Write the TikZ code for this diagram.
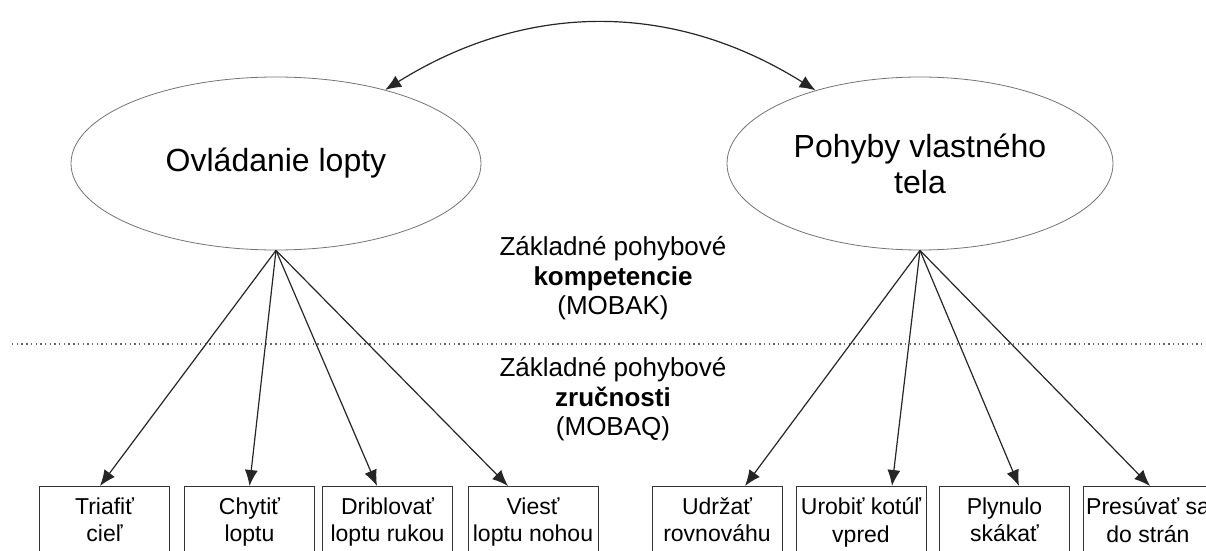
\documentclass[tikz,border=0pt]{standalone}
\usepackage{fontspec}
\setmainfont{Liberation Sans}
\usetikzlibrary{arrows.meta,shapes.geometric}
\tikzstyle{area}=[ellipse, draw=black!55
,line width=0.4pt
,inner sep=0pt
,minimum height=86.5pt
,align=center
,font=\fontsize{16}{18}\selectfont
]
\tikzstyle{skill}=[rectangle, draw=black!80, line width=0.5pt
,minimum width=65pt
,inner xsep=1pt, inner ysep=5.5pt
,anchor=north, align=center
,text depth=30pt
,execute at begin node={\rule{0pt}{10.5pt}}
,font=\fontsize{11.5}{13.8}\selectfont
]
\tikzstyle{level}=[anchor=north, align=center, inner sep=0pt
,execute at begin node={\rule{0pt}{11pt}}
,font=\fontsize{13}{14.75}\selectfont
]
\tikzstyle{edge} = [draw, line width=0.6pt, black!85, -{Latex[length=8pt,width=6.5pt]}]

\begin{document}
\begin{tikzpicture}[x=0.5pt,y=0.5pt]
    \useasboundingbox (0,0) rectangle (1206,-551);
    \clip (0,0) rectangle (1206,-551);
    % The two areas
    \node[area, minimum width=205pt] (ovl) at (276,-163.5) {Ovládanie lopty};
    \node[area, minimum width=193pt] (poh) at (920,-163.5) {Pohyby vlastného\\tela};
    \path[edge, {Latex[length=8pt,width=6.5pt]}-{Latex[length=8pt,width=6.5pt]}] (ovl.34) to[bend left=32] (poh.145);

    % Levels and the line between them
    \node[level] (MOBAK) at (613,-236) {Základné pohybové\\\textbf{kompetencie}\\(MOBAK)};
    \node[level] (MOBAQ) at (613,-357) {Základné pohybové\\\textbf{zručnosti}\\(MOBAQ)};
    \coordinate (sepL) at (12,-344);
    \coordinate (sepR) at (1206,-344);
    \draw[black!60, line width=0.8pt, dash pattern=on 0.7pt off 1.65pt] (sepL) -- (sepR);

    % Then the skills
    \foreach \pos/\name/\txt in {{(104.5,-486)/S_1/{Triafiť\\cieľ}}, {(249.5,-486)/S_2/{Chytiť\\loptu}}, {(387.5,-486)/S_3/{Driblovať\\loptu rukou}}, {(533,-486)/S_4/{Viesť\\loptu nohou}}, {(717,-486)/S_5/{Udržať\\rovnováhu}}, {(861,-486)/S_6/{Urobiť kotúľ\\vpred}}, {(1004.5,-486)/S_7/{Plynulo\\skákať}}, {(1148,-486)/S_8/{Presúvať sa\\do strán}}}
        \node[skill] (\name) at \pos {\txt};

    % Connect areas with skills
    \foreach \source/\dest/\dx in {ovl/S_1/-2.25, ovl/S_2/0, ovl/S_3/-5.25, ovl/S_4/-12.5, poh/S_5/14, poh/S_6/15.5, poh/S_7/7.25, poh/S_8/1}
        \path[edge] (\source.south) -- ([xshift=\dx pt]\dest.north);

\end{tikzpicture}
\end{document}
